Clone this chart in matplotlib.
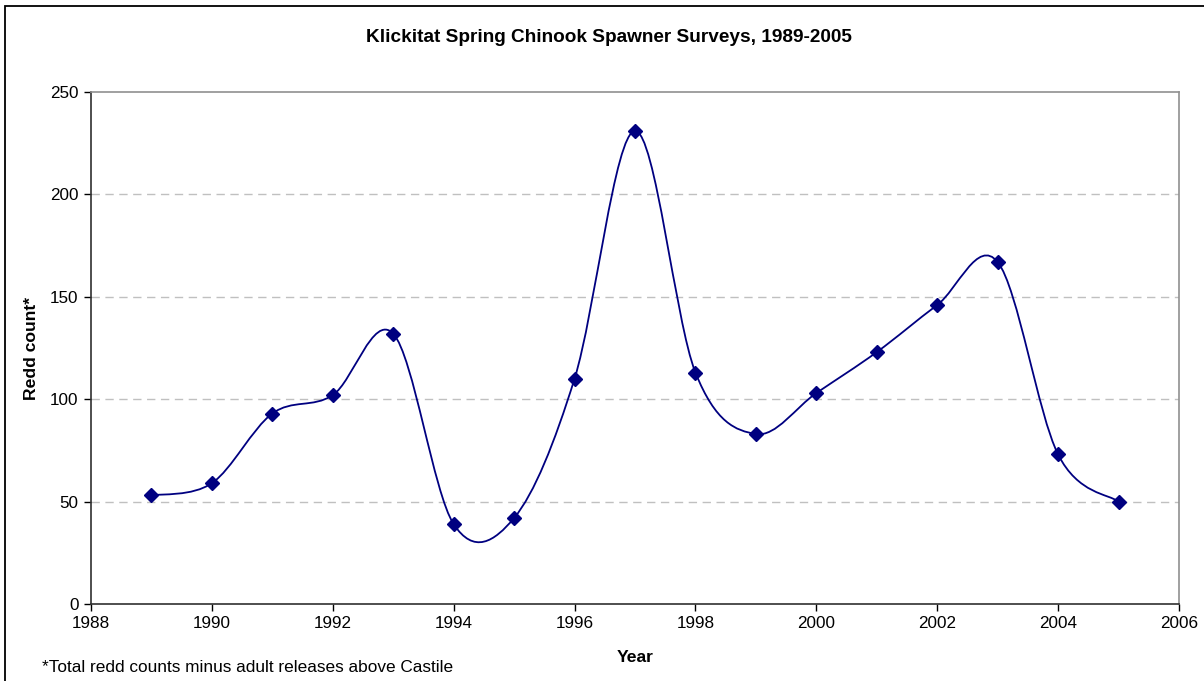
import numpy as np
import matplotlib
matplotlib.use("Agg")
import matplotlib.pyplot as plt
from matplotlib.path import Path
from matplotlib.patches import PathPatch, Rectangle

plt.rcParams['font.family'] = ['Liberation Sans', 'DejaVu Sans']

years = [1989, 1990, 1991, 1992, 1993, 1994, 1995, 1996, 1997,
         1998, 1999, 2000, 2001, 2002, 2003, 2004, 2005]
redds = [53, 59, 93, 102, 132, 39, 42, 110, 231,
         113, 83, 103, 123, 146, 167, 73, 50]
x_ticks = [1988, 1990, 1992, 1994, 1996, 1998, 2000, 2002, 2004, 2006]
y_ticks = [0, 50, 100, 150, 200, 250]

W, H = 1204, 681
fig = plt.figure(figsize=(W / 100, H / 100), dpi=100)
fig.patch.set_facecolor('white')

# outer chart border (left/top visible, right/bottom cropped)
fig.patches.append(Rectangle((5 / W, -0.05), 1.2, 1 - 6 / H + 0.05,
                             transform=fig.transFigure, fill=False,
                             edgecolor='black', linewidth=1.3))

left, right, top, bottom = 91, 1179, 92, 604
ax = fig.add_axes([left / W, 1 - bottom / H, (right - left) / W, (bottom - top) / H])
ax.set_xlim(1988, 2006)
ax.set_ylim(0, 250)
ax.set_xticks(x_ticks)
ax.set_yticks(y_ticks)
ax.tick_params(axis='both', direction='out', length=5, width=1, labelsize=12.3,
               colors='black', pad=4)

for s in ['top', 'right']:
    ax.spines[s].set_color('#909090')
    ax.spines[s].set_linewidth(1.2)
for s in ['left', 'bottom']:
    ax.spines[s].set_color('#303030')
    ax.spines[s].set_linewidth(1.2)

for yv in y_ticks[1:-1]:
    ax.axhline(yv, color='#c0c0c0', linewidth=1, linestyle=(0, (6, 4)), zorder=1)

# Excel-style smoothed line (Catmull-Rom as cubic Bezier)
xs = np.array(years, dtype=float)
ys = np.array(redds, dtype=float)
n = len(xs)
verts = [(xs[0], ys[0])]
codes = [Path.MOVETO]
for i in range(n - 1):
    p0 = np.array([xs[max(i - 1, 0)], ys[max(i - 1, 0)]])
    p1 = np.array([xs[i], ys[i]])
    p2 = np.array([xs[i + 1], ys[i + 1]])
    p3 = np.array([xs[min(i + 2, n - 1)], ys[min(i + 2, n - 1)]])
    c1 = p1 + (p2 - p0) / 6.0
    c2 = p2 - (p3 - p1) / 6.0
    verts += [tuple(c1), tuple(c2), tuple(p2)]
    codes += [Path.CURVE4] * 3
ax.add_patch(PathPatch(Path(verts, codes), facecolor='none',
                       edgecolor='#000080', linewidth=1.3, zorder=3))
ax.plot(years, redds, linestyle='none', marker='D', markersize=7.5,
        color='#000080', markeredgecolor='#000080', zorder=4, clip_on=False)

fig.text(609 / W, 1 - 37 / H, 'Klickitat Spring Chinook Spawner Surveys, 1989-2005',
         ha='center', va='center', fontsize=13.7, fontweight='bold')
fig.text(31 / W, 1 - 348 / H, 'Redd count*', ha='center', va='center',
         rotation=90, fontsize=12.6, fontweight='bold')
fig.text(635 / W, 1 - 658 / H, 'Year', ha='center', va='center',
         fontsize=12.6, fontweight='bold')
fig.text(42 / W, 1 - 668 / H, '*Total redd counts minus adult releases above Castile',
         ha='left', va='center', fontsize=12.4)

fig.savefig('out.png', dpi=100, facecolor='white')
